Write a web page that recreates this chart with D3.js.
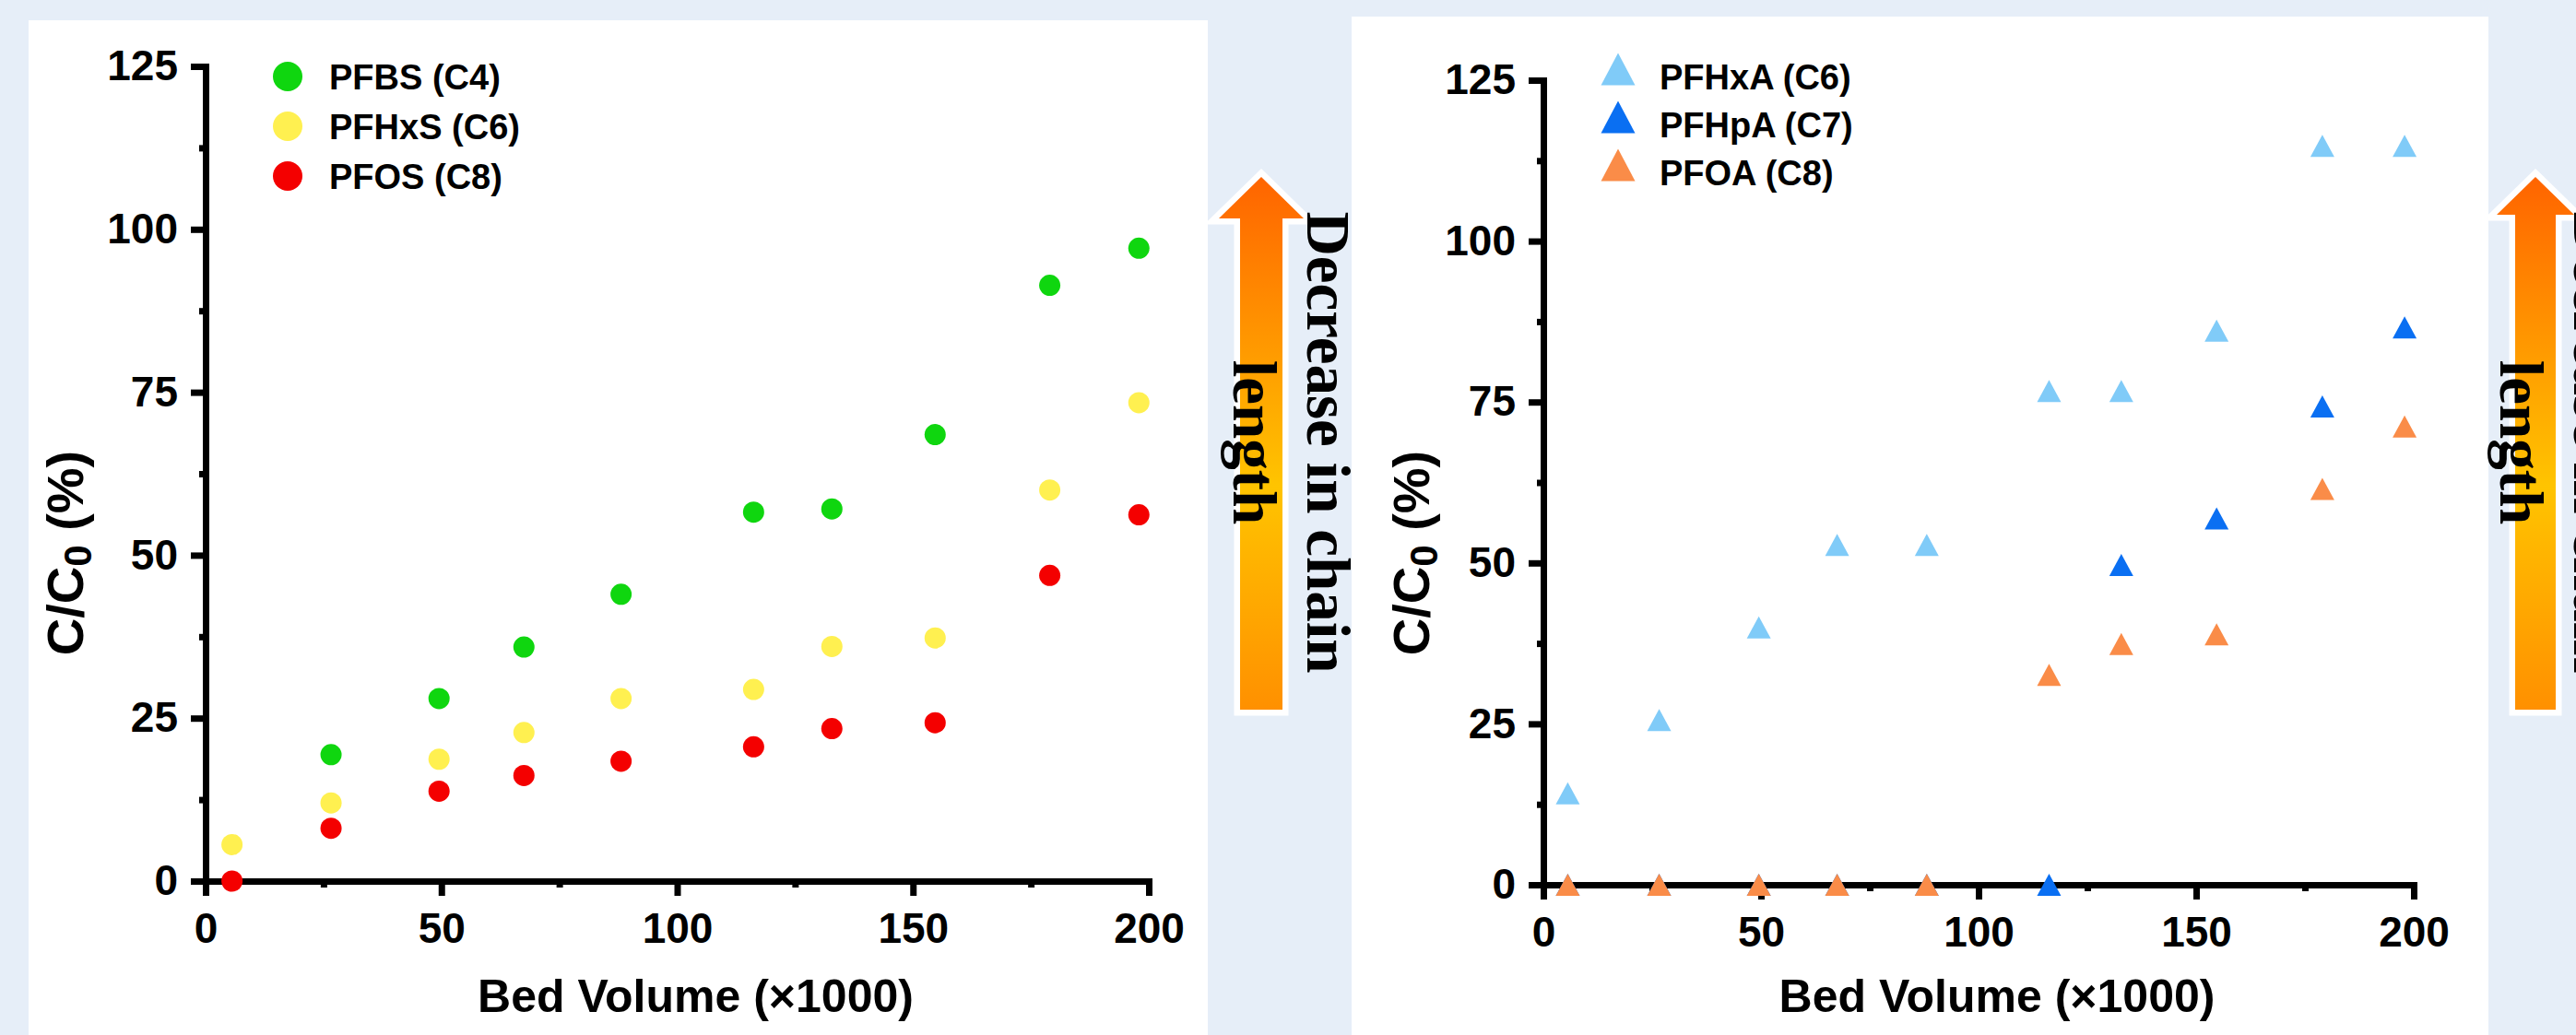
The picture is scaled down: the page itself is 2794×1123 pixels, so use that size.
<!DOCTYPE html>
<html>
<head>
<meta charset="utf-8">
<script src="https://cdn.jsdelivr.net/npm/d3@7"></script>
<style>
  body { margin: 0; background: #e6eef8; }
  svg { display: block; }
  text { font-family: "Liberation Sans", Arial, sans-serif; font-weight: bold; fill: #000; }
  .domain, .tick line { stroke: #000; stroke-width: 7; }
</style>
</head>
<body>
<div id="chart"></div>
<script>
const width = 2794;
const height = 1123;

// bed volume (x1000), shared by both panels
const bed_volume = [5.6, 26.6, 49.5, 67.5, 88.1, 116.2, 132.8, 154.7, 179, 197.9];

// sulfonates, C/C0 (%)
const pfbs  = [null, 19.4, 28, 35.9, 44, 56.6, 57.1, 68.5, 91.4, 97.1];
const pfhxs = [5.6, 12, 18.7, 22.8, 28, 29.4, 36, 37.3, 60, 73.4];
const pfos  = [0, 8.1, 13.8, 16.2, 18.4, 20.6, 23.4, 24.3, 46.9, 56.2];

// carboxylates, C/C0 (%)
const pfhxa = [14.2, 25.6, 40, 52.8, 52.8, 76.7, 76.7, 86.1, 114.8, 114.8];
const pfhpa = [0, 0, 0, 0, 0, 0, 49.7, 56.9, 74.3, 86.6];
const pfoa  = [0, 0, 0, 0, 0, 32.6, 37.4, 38.9, 61.5, 71.2];

const names_left  = ["PFBS (C4)", "PFHxS (C6)", "PFOS (C8)"];
const names_right = ["PFHxA (C6)", "PFHpA (C7)", "PFOA (C8)"];
const colors_left  = ["#0fd60f", "#fff050", "#f40000"];
const colors_right = ["#80cbf8", "#0a6ff2", "#fa8c48"];

const x_ticks = [0, 50, 100, 150, 200];
const x_minor = [25, 75, 125, 175];
const y_ticks = [0, 25, 50, 75, 100, 125];
const y_minor = [12.5, 37.5, 62.5, 87.5, 112.5];

const svg = d3.select('#chart')
  .append('svg')
    .attr('width', width)
    .attr('height', height);

svg.append('rect')
  .attr('width', width).attr('height', height)
  .attr('fill', '#e6eef8');

// white panels
svg.append('rect').attr('x', 31).attr('y', 22).attr('width', 1279).attr('height', height).attr('fill', '#fff');
svg.append('rect').attr('x', 1466).attr('y', 18).attr('width', 1233).attr('height', height).attr('fill', '#fff');

const to_points = values => values
  .map((v, i) => ({ x: bed_volume[i], y: v }))
  .filter(d => d.y !== null);

const triangle = (w, h) => `M0,${-h/2}L${w/2},${h/2}L${-w/2},${h/2}Z`;

let draw_panel = (opts) => {
  const x_scale = d3.scaleLinear().domain([0, 200]).range([0, opts.x1 - opts.x0]);
  const y_scale = d3.scaleLinear().domain([0, 125]).range([opts.y0 - opts.y1, 0]);

  const g = svg.append('g')
    .attr('transform', `translate(${opts.x0},${opts.y1})`);

  // minor ticks first
  g.append('g')
    .attr('transform', `translate(0,${opts.y0 - opts.y1})`)
    .call(d3.axisBottom(x_scale).tickValues(x_minor).tickSize(7).tickFormat(''))
    .call(a => a.select('.domain').remove());
  g.append('g')
    .call(d3.axisLeft(y_scale).tickValues(y_minor).tickSize(7).tickFormat(''))
    .call(a => a.select('.domain').remove());

  g.append('g')
    .attr('transform', `translate(0,${opts.y0 - opts.y1})`)
    .call(d3.axisBottom(x_scale).tickValues(x_ticks).tickSize(16).tickSizeOuter(16).tickPadding(18))
    .call(a => a.selectAll('text').style('font-size', '46px'));
  g.append('g')
    .call(d3.axisLeft(y_scale).tickValues(y_ticks).tickSize(16).tickSizeOuter(16).tickPadding(14))
    .call(a => a.selectAll('text').style('font-size', '46px'));

  // points
  opts.series.forEach((values, k) => {
    const pts = g.append('g').selectAll('.pt')
      .data(to_points(values))
      .join(opts.shape === 'circle' ? 'circle' : 'path')
        .attr('class', 'pt')
        .attr('fill', opts.colors[k]);
    if (opts.shape === 'circle') {
      pts.attr('cx', d => x_scale(d.x)).attr('cy', d => y_scale(d.y)).attr('r', 11.5);
    } else {
      pts.attr('d', triangle(26, 24))
        .attr('transform', d => `translate(${x_scale(d.x)},${y_scale(d.y)})`);
    }
  });

  // legend
  const legend = svg.append('g');
  opts.names.forEach((name, k) => {
    const row = legend.append('g');
    if (opts.shape === 'circle') {
      row.append('circle')
        .attr('cx', opts.legend_x).attr('cy', opts.legend_y[k] - 14)
        .attr('r', 16).attr('fill', opts.colors[k]);
    } else {
      row.append('path')
        .attr('d', triangle(37, 35))
        .attr('transform', `translate(${opts.legend_x},${opts.legend_y[k] - 22})`)
        .attr('fill', opts.colors[k]);
    }
    row.append('text')
      .attr('x', opts.legend_x + 45)
      .attr('y', opts.legend_y[k])
      .style('font-size', '38px')
      .text(name);
  });

  // axis titles
  svg.append('text')
    .attr('x', (opts.x0 + opts.x1) / 2 + 20)
    .attr('y', 1098)
    .attr('text-anchor', 'middle')
    .style('font-size', '50px')
    .text('Bed Volume (\u00d71000)');

  const yt = svg.append('text')
    .attr('transform', `translate(${opts.ytitle_x},600) rotate(-90)`)
    .attr('text-anchor', 'middle')
    .style('font-size', '56px');
  yt.append('tspan').text('C/C');
  yt.append('tspan').attr('dy', 9).style('font-size', '42px').text('0');
  yt.append('tspan').attr('dy', -9).text(' (%)');
};

draw_panel({
  x0: 223, x1: 1246, y0: 956, y1: 72,
  series: [pfbs, pfhxs, pfos], names: names_left, colors: colors_left,
  shape: 'circle', legend_x: 312, legend_y: [97, 151, 205], ytitle_x: 90
});
draw_panel({
  x0: 1674, x1: 2618, y0: 960, y1: 87,
  series: [pfhxa, pfhpa, pfoa], names: names_right, colors: colors_right,
  shape: 'triangle', legend_x: 1755, legend_y: [97, 149, 201], ytitle_x: 1550
});

// "decrease in chain length" arrows
const defs = svg.append('defs');
const grad = defs.append('linearGradient')
  .attr('id', 'arrow-grad')
  .attr('x1', 0).attr('y1', 0).attr('x2', 0).attr('y2', 1);
grad.append('stop').attr('offset', '0%').attr('stop-color', '#ff6400');
grad.append('stop').attr('offset', '58%').attr('stop-color', '#ffc400');
grad.append('stop').attr('offset', '100%').attr('stop-color', '#ff9000');

const arrow_path = (cx, hw, sw, head) => {
  const top = 192, bottom = 770;
  return `M${cx},${top}L${cx + hw},${head}L${cx + sw},${head}L${cx + sw},${bottom}` +
         `L${cx - sw},${bottom}L${cx - sw},${head}L${cx - hw},${head}Z`;
};

const serif = '"Liberation Serif", "Times New Roman", serif';

[
  { cx: 1368, hw: 46, sw: 23, head: 237, text_x: 1418, len_x: 1338 },
  { cx: 2750, hw: 42, sw: 22, head: 233, text_x: 2792, len_x: 2712 }
].forEach(a => {
  svg.append('path')
    .attr('d', arrow_path(a.cx, a.hw, a.sw, a.head))
    .attr('fill', 'url(#arrow-grad)')
    .attr('stroke', '#fff')
    .attr('stroke-width', 13)
    .style('paint-order', 'stroke');

  svg.append('text')
    .attr('transform', `translate(${a.text_x},480) rotate(90)`)
    .attr('text-anchor', 'middle')
    .style('font-family', serif)
    .style('font-size', '67px')
    .text('Decrease in chain');
  svg.append('text')
    .attr('transform', `translate(${a.len_x},480) rotate(90)`)
    .attr('text-anchor', 'middle')
    .style('font-family', serif)
    .style('font-size', '67px')
    .text('length');
});
</script>
</body>
</html>
